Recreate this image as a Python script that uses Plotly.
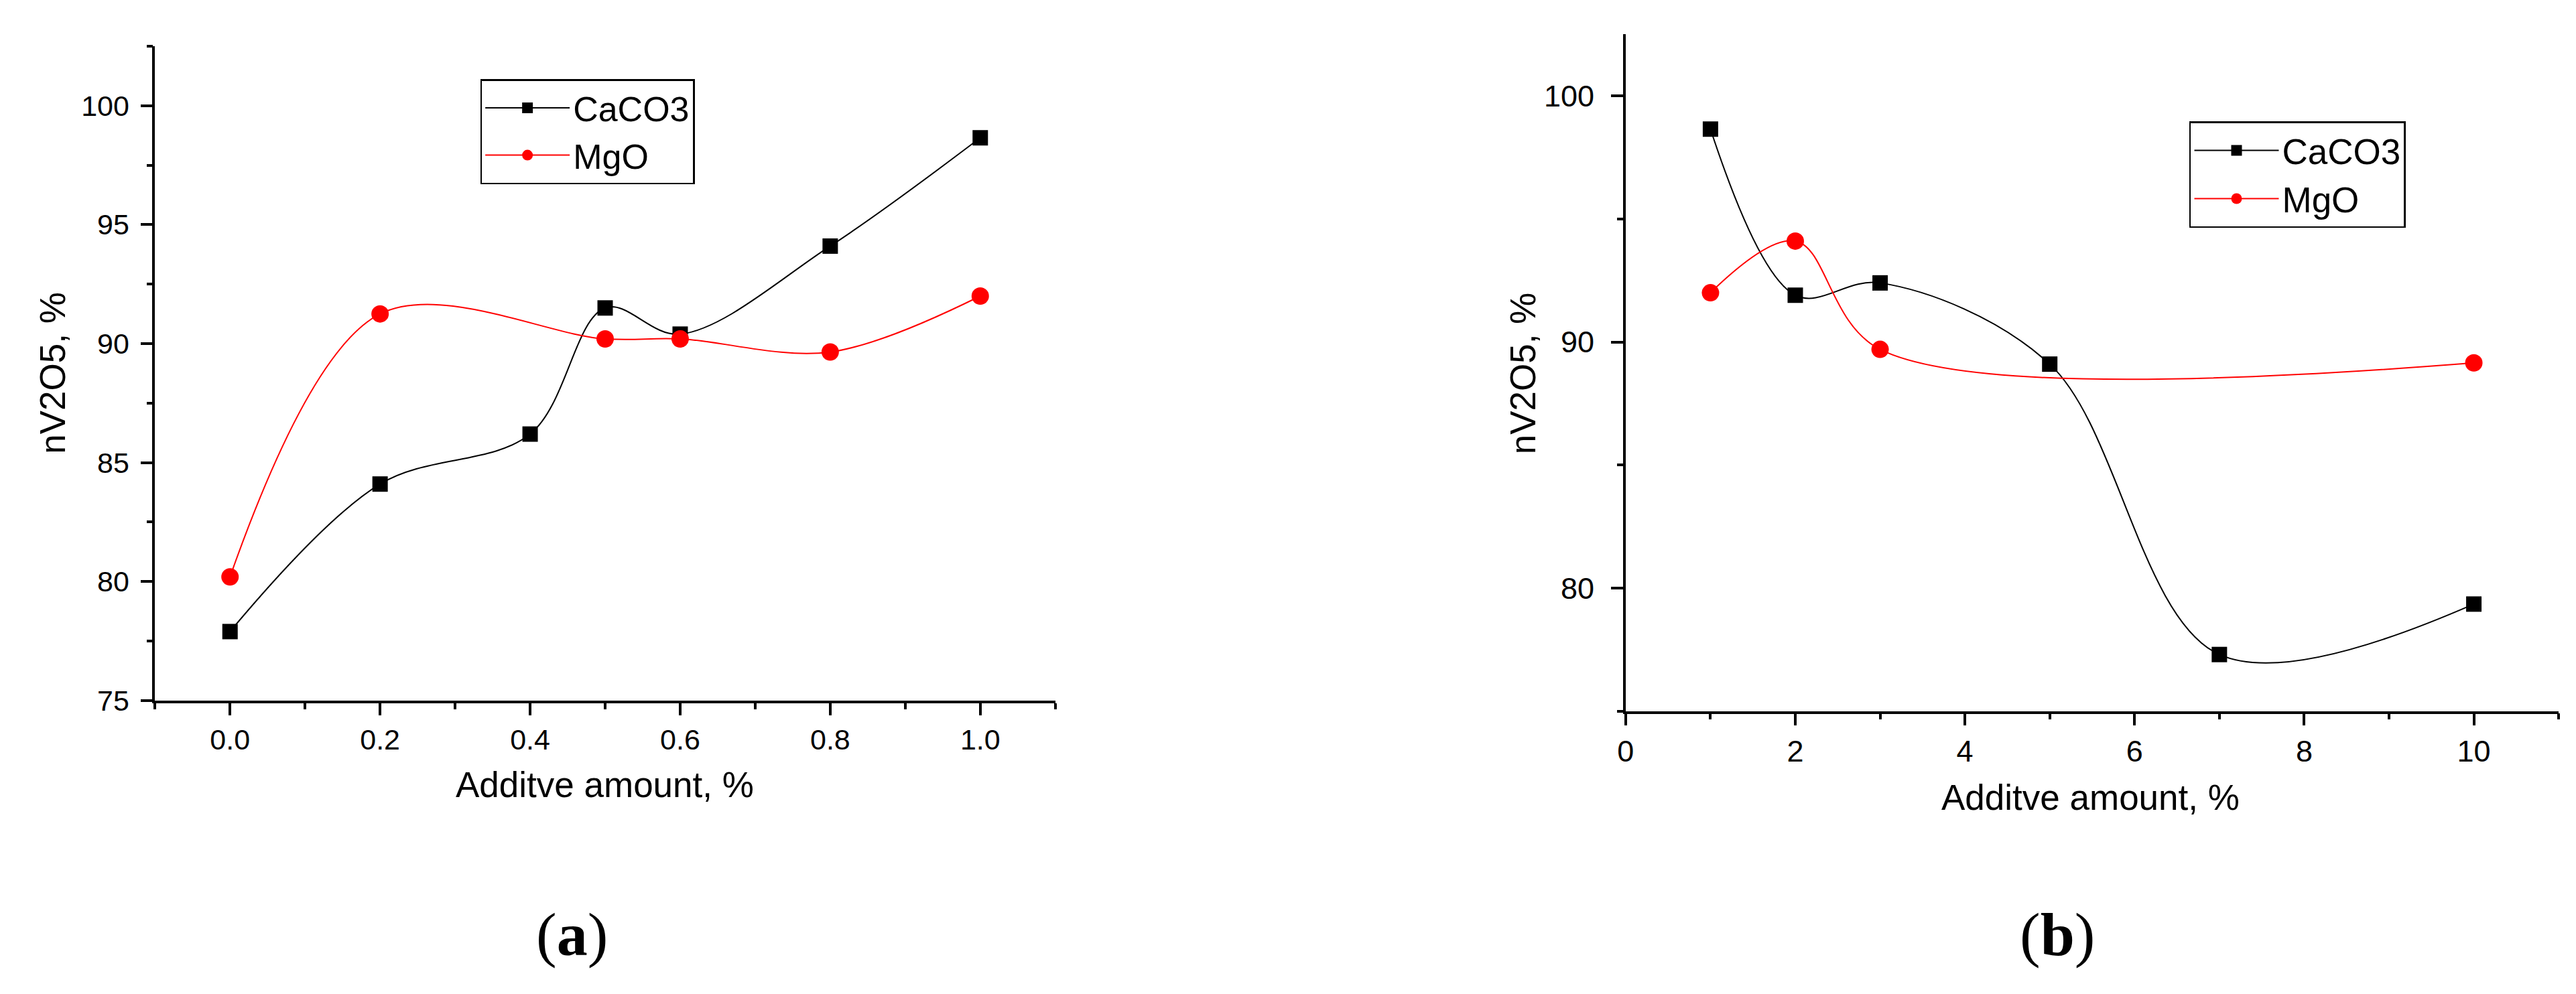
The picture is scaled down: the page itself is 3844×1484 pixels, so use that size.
import plotly.graph_objects as go

# (a) additive amount 0..1 %
x_a_caco3 = [0.0, 0.2, 0.4, 0.5, 0.6, 0.8, 1.0]
y_a_caco3 = [77.9, 84.1, 86.2, 91.5, 90.4, 94.1, 98.65]
x_a_mgo = [0.0, 0.2, 0.5, 0.6, 0.8, 1.0]
y_a_mgo = [80.2, 91.25, 90.2, 90.2, 89.65, 92.0]

# (b) additive amount 1..10 %
x_b_caco3 = [1, 2, 3, 5, 7, 10]
y_b_caco3 = [98.65, 91.9, 92.4, 89.1, 77.3, 79.35]
x_b_mgo = [1, 2, 3, 10]
y_b_mgo = [92.0, 94.1, 89.7, 89.15]

W, H = 3844, 1484
FONT = "Liberation Sans, Arial, sans-serif"


def px(x):
    return x / W


def py(y):
    return 1 - y / H


fig = go.Figure()

fig.add_trace(go.Scatter(
    x=x_a_caco3, y=y_a_caco3, name="CaCO3", mode="lines+markers",
    line=dict(color="black", width=2, shape="spline", smoothing=1),
    marker=dict(symbol="square", size=23, color="black"),
    xaxis="x", yaxis="y", legend="legend"))
fig.add_trace(go.Scatter(
    x=x_a_mgo, y=y_a_mgo, name="MgO", mode="lines+markers",
    line=dict(color="red", width=2, shape="spline", smoothing=1),
    marker=dict(symbol="circle", size=26, color="red"),
    xaxis="x", yaxis="y", legend="legend"))
fig.add_trace(go.Scatter(
    x=x_b_caco3, y=y_b_caco3, name="CaCO3", mode="lines+markers",
    line=dict(color="black", width=2, shape="spline", smoothing=1),
    marker=dict(symbol="square", size=23, color="black"),
    xaxis="x2", yaxis="y2", legend="legend2"))
fig.add_trace(go.Scatter(
    x=x_b_mgo, y=y_b_mgo, name="MgO", mode="lines+markers",
    line=dict(color="red", width=2, shape="spline", smoothing=1),
    marker=dict(symbol="circle", size=26, color="red"),
    xaxis="x2", yaxis="y2", legend="legend2"))

axis_style = dict(
    showline=True, linecolor="black", linewidth=3.5,
    ticks="outside", ticklen=18, tickwidth=3.5, tickcolor="black",
    showgrid=False, zeroline=False,
    tickfont=dict(family=FONT, size=43, color="black"),
)
minor_style = dict(ticklen=9, tickwidth=3.5, ticks="outside", tickcolor="black")

fig.update_layout(
    width=W, height=H,
    margin=dict(l=0, r=0, t=0, b=0),
    paper_bgcolor="white", plot_bgcolor="white",
    font=dict(family=FONT, color="black"),
    xaxis=dict(axis_style, domain=[px(211), px(1559)], range=[-0.1, 1.1],
               tick0=0, dtick=0.2, tickformat=".1f", anchor="y",
               minor=dict(minor_style, dtick=0.1)),
    yaxis=dict(axis_style, domain=[py(1055), py(62)], range=[75, 102.5],
               tick0=75, dtick=5, anchor="x", ticklabelstandoff=8,
               minor=dict(minor_style, dtick=2.5)),
    xaxis2=dict(axis_style, domain=[px(2413), px(3810)], range=[0, 11],
                tick0=0, dtick=2, anchor="y2",
                tickfont=dict(family=FONT, size=45, color="black"),
                minor=dict(minor_style, dtick=1)),
    yaxis2=dict(axis_style, domain=[py(1071), py(44)], range=[75, 102.5],
                tick0=0, dtick=10, anchor="x2", ticklabelstandoff=16,
                tickfont=dict(family=FONT, size=45, color="black"),
                minor=dict(minor_style, dtick=5, tick0=0)),
    legend=dict(x=px(698), y=py(112), xanchor="left", yanchor="top",
                bgcolor="white", bordercolor="black", borderwidth=2.5,
                font=dict(family=FONT, size=52, color="black"),
                itemwidth=126, tracegroupgap=0),
    legend2=dict(x=px(3257), y=py(176), xanchor="left", yanchor="top",
                 bgcolor="white", bordercolor="black", borderwidth=2.5,
                 font=dict(family=FONT, size=53, color="black"),
                 itemwidth=126, tracegroupgap=0),
    showlegend=True,
)

# axis titles and panel captions
annots = [
    dict(x=px(884), y=py(1183), text="Additve amount, %", size=53, angle=0),
    dict(x=px(58), y=py(558), text="nV2O5, %", size=53, angle=-90),
    dict(x=px(3109), y=py(1202), text="Additve amount, %", size=53, angle=0),
    dict(x=px(2260), y=py(558), text="nV2O5, %", size=53, angle=-90),
]
for a in annots:
    fig.add_annotation(x=a["x"], y=a["y"], xref="paper", yref="paper",
                       text=a["text"], textangle=a["angle"], showarrow=False,
                       xanchor="center", yanchor="middle",
                       font=dict(family=FONT, size=a["size"], color="black"))

for lab, cx in [("(<b>a</b>)", 835), ("(<b>b</b>)", 3059)]:
    fig.add_annotation(x=px(cx), y=py(1410), xref="paper", yref="paper",
                       text=lab, showarrow=False, xanchor="center", yanchor="middle",
                       font=dict(family="Liberation Serif, Times New Roman, serif", size=92, color="black"))

fig.write_html("out.html")
